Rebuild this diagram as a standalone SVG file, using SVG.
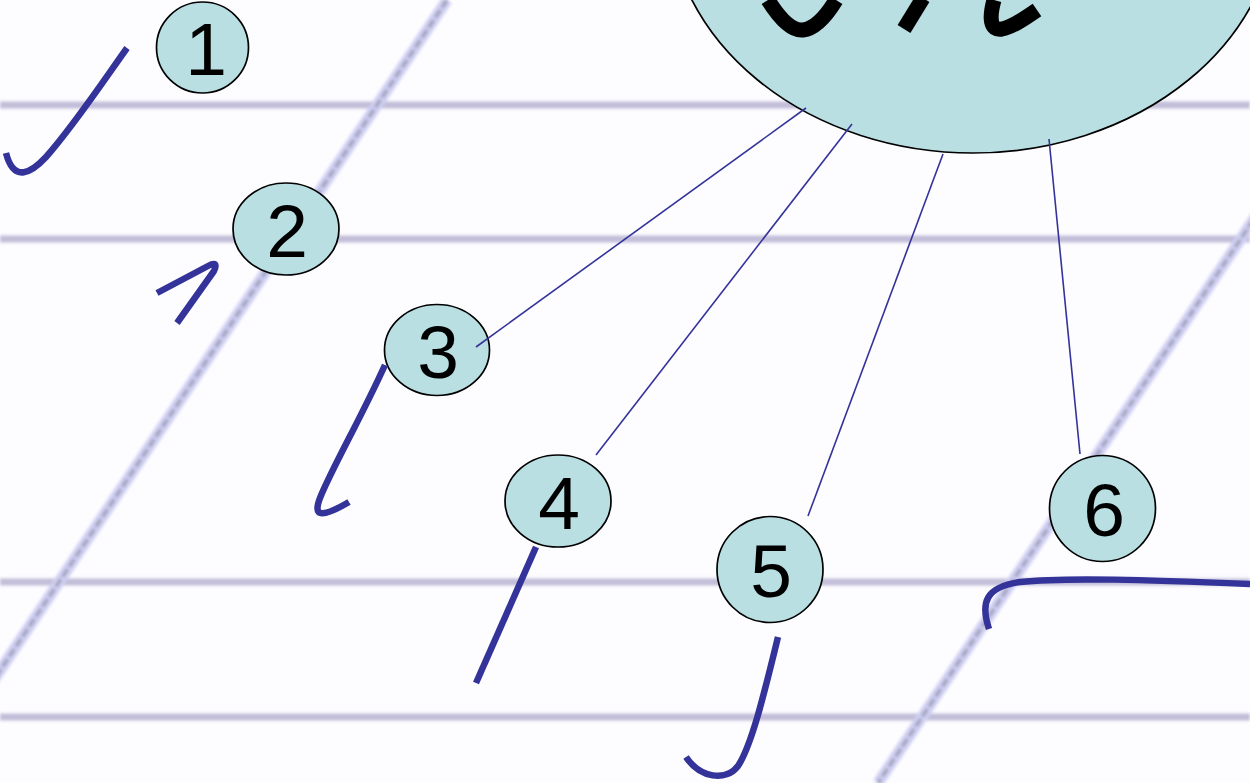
<svg xmlns="http://www.w3.org/2000/svg" width="1250" height="783" viewBox="0 0 1250 783">
<style>
.hline{stroke:#c2bdd8;stroke-width:7;fill:none}
.dline{stroke:#cfcff4;stroke-width:11;fill:none}
.dcore{stroke:#a2a2b8;stroke-width:3.5;fill:none;stroke-dasharray:9 3}
.node ellipse{fill:#b9dfe2;stroke:#000;stroke-width:1.7}
.node text{font-family:"Liberation Sans",Arial,sans-serif;font-size:75px;fill:#000;text-anchor:middle}
.conn{stroke:#333399;stroke-width:1.6;fill:none}
.hand{stroke:#333399;stroke-width:6.5;fill:none;stroke-linecap:butt;stroke-linejoin:round}
.glyph{stroke:#000;stroke-width:15;fill:none;stroke-linecap:butt;stroke-linejoin:round}
</style>
<defs>
<filter id="soft" x="-5%" y="-5%" width="110%" height="110%"><feGaussianBlur stdDeviation="1.6"/></filter>
</defs>
<rect x="0" y="0" width="1250" height="783" fill="#fdfcff"/>
<g id="paper" filter="url(#soft)">
<line class="hline" x1="0" y1="105" x2="1250" y2="105"/>
<line class="hline" x1="0" y1="239" x2="1250" y2="239"/>
<line class="hline" x1="0" y1="582" x2="1250" y2="582"/>
<line class="hline" x1="0" y1="717" x2="1250" y2="717"/>
<line class="dline" x1="447" y1="0" x2="-75" y2="783"/>
<line class="dcore" x1="447" y1="0" x2="-75" y2="783"/>
<line class="dline" x1="1400" y1="0" x2="878" y2="783"/>
<line class="dcore" x1="1400" y1="0" x2="878" y2="783"/>
</g>
<g id="main" class="node">
<ellipse cx="973" cy="-97" rx="305" ry="250"/>
<path class="glyph" d="M768,0 Q788,32 803,30 Q819,28 836,0"/>
<path class="glyph" d="M923,-2 L904,29"/>
<path class="glyph" d="M994,0 C989,18 990,31 1002,29 C1012,27 1024,19 1037,10"/>
</g>
<g id="node1" class="node"><ellipse cx="202.5" cy="47.5" rx="46" ry="45.5"/><text x="206" y="75">1</text></g>
<g id="node2" class="node"><ellipse cx="286" cy="229" rx="53" ry="46"/><text x="287" y="257">2</text></g>
<g id="node3" class="node"><ellipse cx="437" cy="350" rx="52.5" ry="45.5"/><text x="438" y="378">3</text></g>
<g id="node4" class="node"><ellipse cx="558" cy="501" rx="53" ry="46"/><text x="559" y="529">4</text></g>
<g id="node5" class="node"><ellipse cx="770" cy="569.5" rx="53" ry="53"/><text x="771" y="597">5</text></g>
<g id="node6" class="node"><ellipse cx="1102.5" cy="508.5" rx="53" ry="53"/><text x="1104" y="536">6</text></g>
<g id="connectors">
<line class="conn" x1="806" y1="108" x2="476" y2="347"/>
<line class="conn" x1="852" y1="124" x2="596" y2="455"/>
<line class="conn" x1="943" y1="154" x2="808" y2="516"/>
<line class="conn" x1="1049" y1="139" x2="1080" y2="454"/>
</g>
<g id="strokes">
<path class="hand" d="M127,48 C100,86 72,128 46,157 C32,172 14,184 6,153"/>
<path class="hand" d="M157,293 L208,266 Q219,260 214,271 L177,323"/>
<path class="hand" d="M385,365 C360,420 332,468 320,498 C313,516 320,519 349,502"/>
<path class="hand" d="M536,547 L476,683"/>
<path class="hand" d="M778,637 C765,690 752,745 738,766 C726,782 700,778 686,757"/>
<path class="hand" d="M989,629 C980,602 986,587 1020,582 C1065,577 1150,580 1250,584"/>
</g>
</svg>
